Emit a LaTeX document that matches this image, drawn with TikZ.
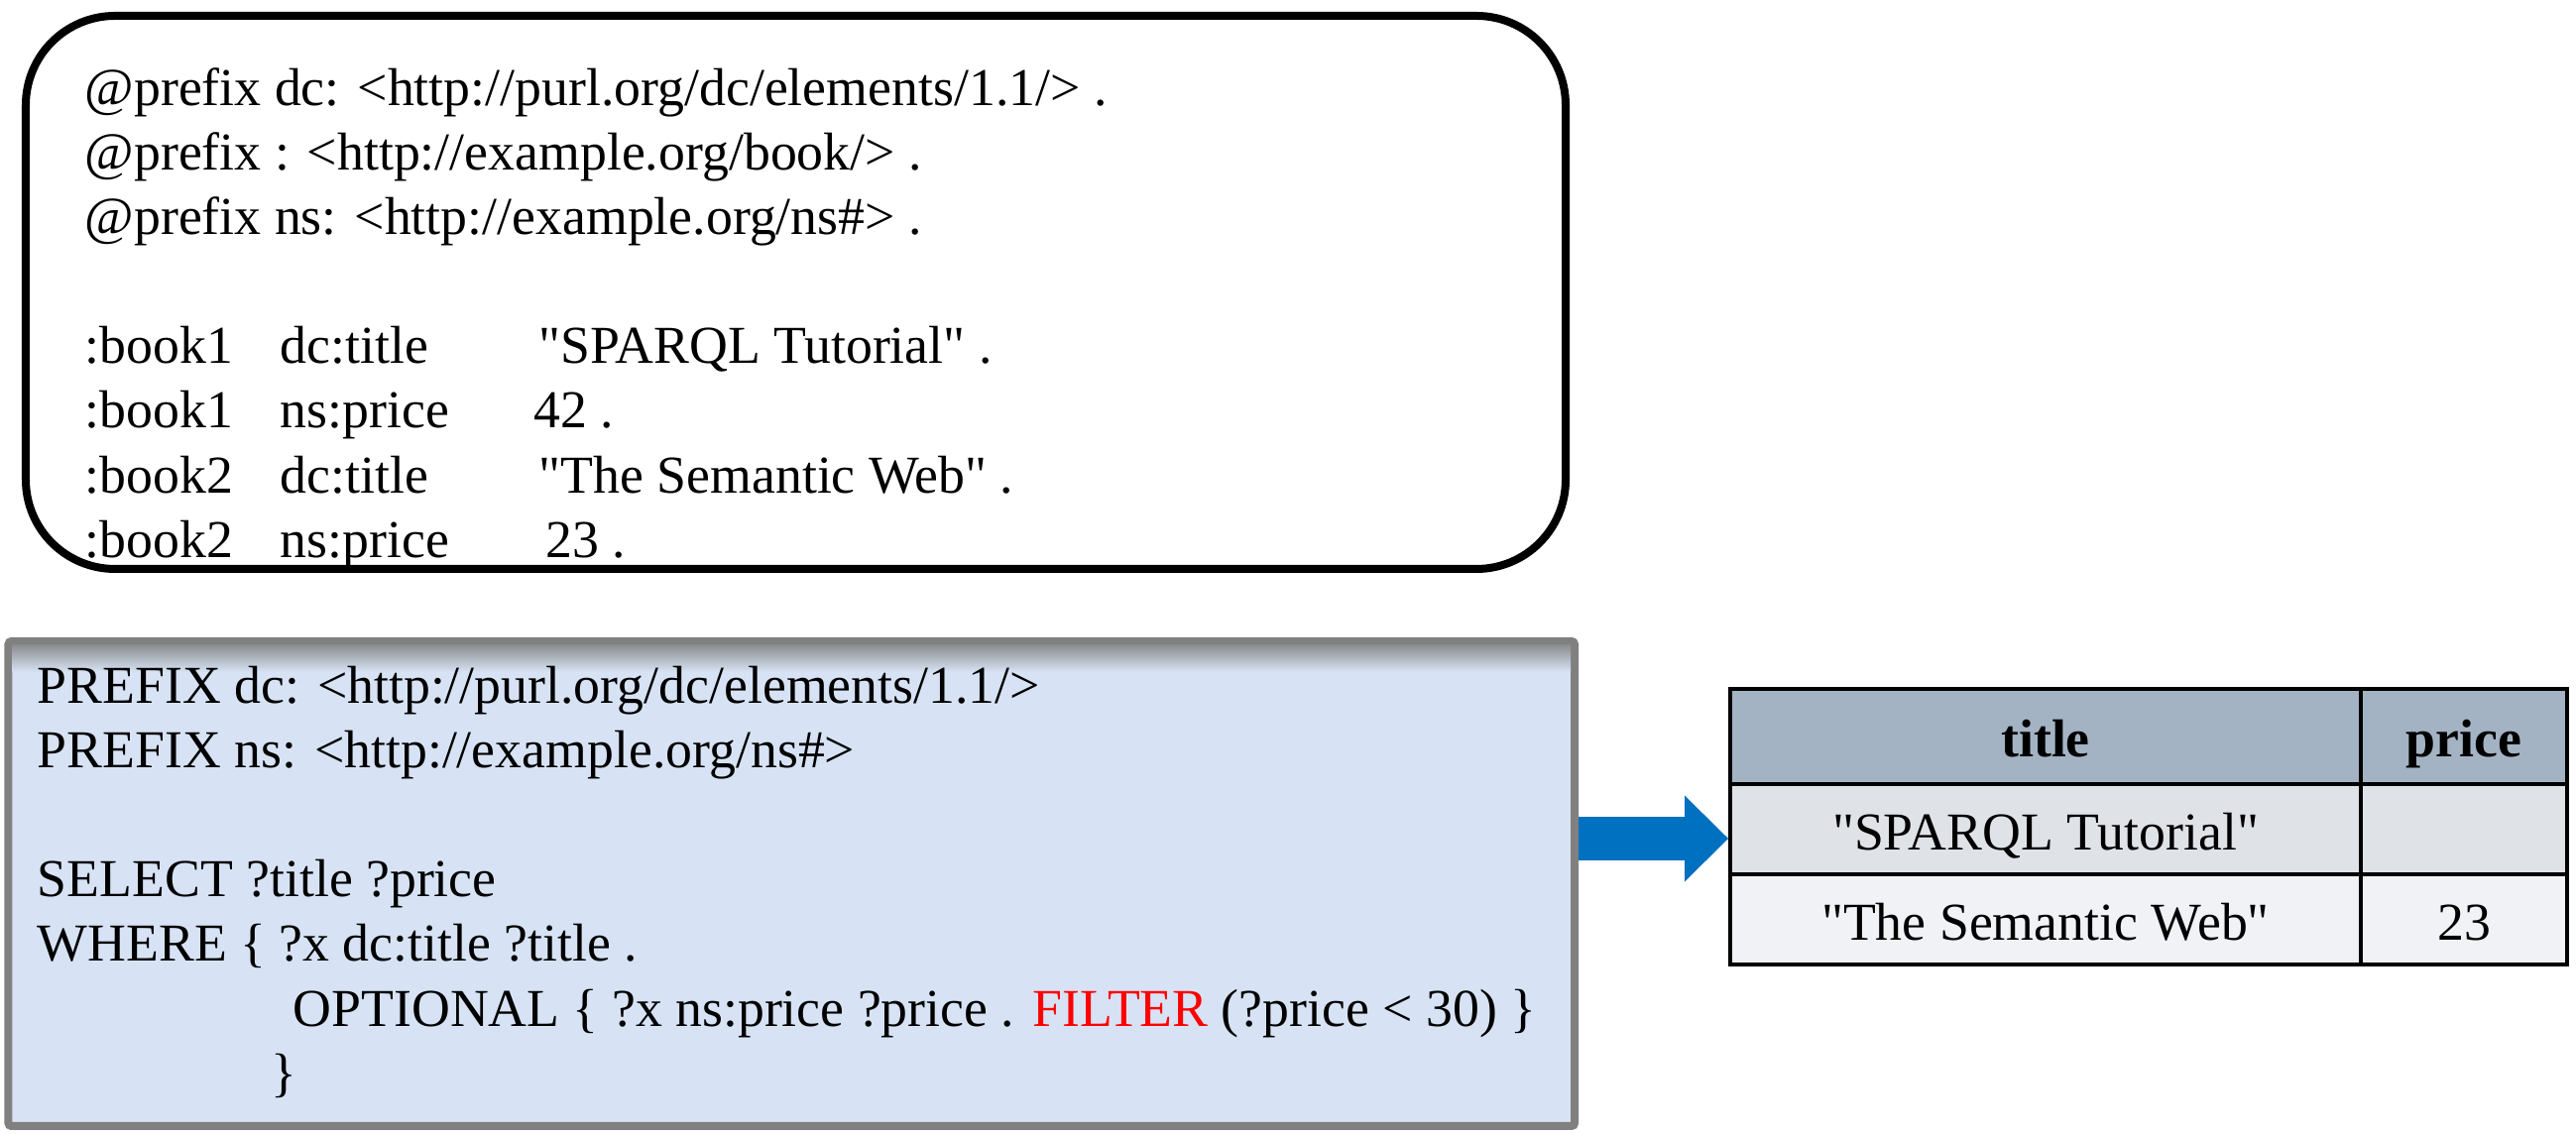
\documentclass[tikz,border=0pt]{standalone}
\usepackage{fontspec}
\setmainfont{Liberation Serif}
\newfontfamily\codefont{Liberation Serif}
\usetikzlibrary{positioning}
\usetikzlibrary{arrows.meta}
\definecolor{queryfill}{HTML}{D7E3F4}
\definecolor{queryline}{HTML}{808080}
\definecolor{arrowblue}{HTML}{0070C0}
\definecolor{headfill}{HTML}{A3B3C3}
\definecolor{rowone}{HTML}{DFE3E8}
\definecolor{rowtwo}{HTML}{F0F2F5}
\tikzset{
  code/.style={font=\codefont\fontsize{15.3}{18}\selectfont, anchor=base west, inner sep=0pt},
  cell/.style={draw=black, line width=0.04cm, inner sep=0pt, text height=0.52cm, text depth=0.1cm,
    font=\codefont\fontsize{15.3}{18}\selectfont},
  titlecol/.style={cell, minimum width=6.36cm},
  pricecol/.style={cell, minimum width=2.08cm},
}

\begin{document}
\begin{tikzpicture}
\useasboundingbox (0,0) rectangle (25.98,11.44);

% data graph
\node[draw=black, line width=0.08cm, rounded corners=0.9cm, minimum width=15.53cm, minimum height=5.58cm, inner sep=0pt] (data) at (8.025,8.49) {};
\node[code] (d1) at (0.85,10.37) {@prefix dc: <http://purl.org/dc/elements/1.1/> .};
\node[code] (d2) at (0.85,9.72) {@prefix : <http://example.org/book/> .};
\node[code] (d3) at (0.85,9.07) {@prefix ns: <http://example.org/ns\#> .};
\node[code] (s1) at (0.85,7.77) {:book1};
\node[code] (p1) at (2.82,7.77) {dc:title};
\node[code] (o1) at (5.43,7.77) {"SPARQL Tutorial" .};
\node[code] (s2) at (0.85,7.12) {:book1};
\node[code] (p2) at (2.82,7.12) {ns:price};
\node[code] (o2) at (5.38,7.12) {42 .};
\node[code] (s3) at (0.85,6.46) {:book2};
\node[code] (p3) at (2.82,6.46) {dc:title};
\node[code] (o3) at (5.43,6.46) {"The Semantic Web" .};
\node[code] (s4) at (0.85,5.81) {:book2};
\node[code] (p4) at (2.82,5.81) {ns:price};
\node[code] (o4) at (5.50,5.81) {23 .};

% query
\node[fill=queryfill, draw=queryline, line width=0.08cm, rounded corners=0.03cm, minimum width=15.795cm, minimum height=4.89cm, inner sep=0pt] (query) at (7.9825,2.525) {};
\shade[top color=queryline!85!queryfill, bottom color=queryfill] (0.125,4.93) rectangle (15.84,4.66);
\node[code] (q1) at (0.37,4.34) {PREFIX dc: <http://purl.org/dc/elements/1.1/>};
\node[code] (q2) at (0.37,3.69) {PREFIX ns: <http://example.org/ns\#>};
\node[code] (q3) at (0.37,2.39) {SELECT ?title ?price};
\node[code] (q4) at (0.37,1.74) {WHERE \{ ?x dc:title ?title .};
\node[code] (q5) at (2.95,1.08) {OPTIONAL \{ ?x ns:price ?price . \textcolor{red}{FILTER} (?price < 30) \}};
\node[code] (q6) at (2.73,0.43) {\}};

% result table
\node[titlecol, fill=headfill, minimum height=0.96cm, font=\codefont\fontsize{15.3}{18}\selectfont\bfseries] (h1) at (20.63,4.01) {title};
\node[pricecol, fill=headfill, minimum height=0.96cm, font=\codefont\fontsize{15.3}{18}\selectfont\bfseries] (h2) at (24.85,4.01) {price};
\node[titlecol, fill=rowone, minimum height=0.91cm] (r11) at (20.63,3.075) {"SPARQL Tutorial"};
\node[pricecol, fill=rowone, minimum height=0.91cm] (r12) at (24.85,3.075) {};
\node[titlecol, fill=rowtwo, minimum height=0.91cm] (r21) at (20.63,2.165) {"The Semantic Web"};
\node[pricecol, fill=rowtwo, minimum height=0.91cm] (r22) at (24.85,2.165) {23};

\coordinate (a) at (0,2.98);
\draw[arrowblue, line width=0.44cm, -{Triangle[length=0.44cm, width=0.87cm, line width=0pt]}] (query.east |- a) -- (r11.west |- a);

\end{tikzpicture}
\end{document}
